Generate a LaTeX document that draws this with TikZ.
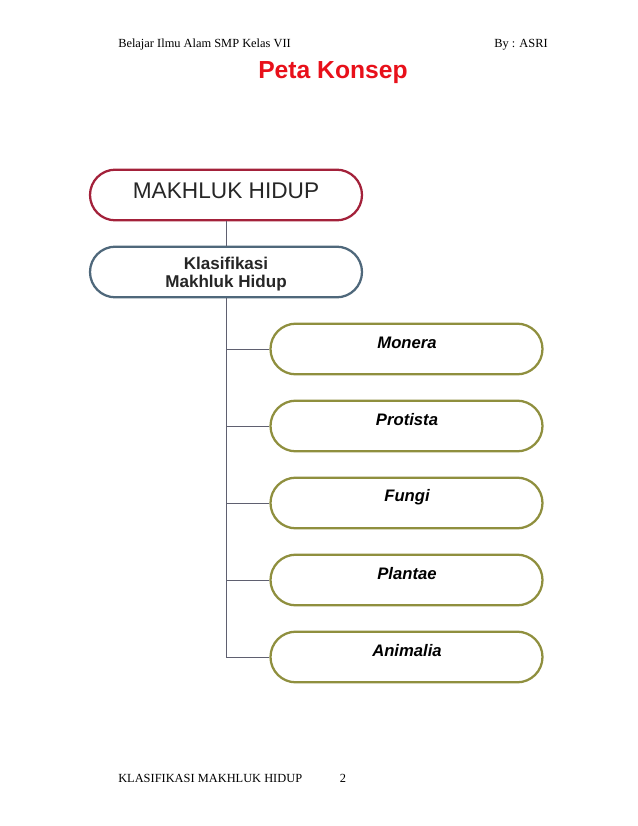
\documentclass[tikz,border=0pt]{standalone}
\usepackage{fontspec}
\setmainfont{Liberation Serif}
\newfontfamily\arialf{Liberation Sans}
\definecolor{topred}{HTML}{A3213A}
\definecolor{slateb}{HTML}{4F687B}
\definecolor{olivec}{HTML}{8F8F3E}
\definecolor{linec}{HTML}{5F6070}
\definecolor{titlered}{HTML}{E8101A}
\begin{document}
\begin{tikzpicture}[x=0.75pt,y=-0.75pt,
  pill/.style={draw, line width=1.7pt, rounded corners=19pt, fill=white, minimum width=204pt, minimum height=38pt, inner sep=0pt},
  toppill/.style={pill, draw=topred},
  midpill/.style={pill, draw=slateb},
  subpill/.style={pill, draw=olivec},
  conn/.style={draw=linec, line width=0.6pt},
  subtxt/.style={font=\arialf\bfseries\itshape\fontsize{12.5}{15}\selectfont},
  hdr/.style={font=\fontsize{9.3}{11}\selectfont, inner sep=0pt}
]
\useasboundingbox (0,0) rectangle (638,826);
\node[hdr, anchor=west] (h1) at (118,45) {Belajar Ilmu Alam SMP Kelas VII};
\node[hdr, anchor=east] (h2) at (548,45) {By : ASRI};
\node[font=\arialf\bfseries\fontsize{18.5}{22}\selectfont, text=titlered, inner sep=0pt] (title) at (333,73) {Peta Konsep};

\node[toppill] (mh) at (226,195) {};
\node[font=\arialf\fontsize{17}{20}\selectfont, text=black!85, inner sep=0pt] (mht) at (226,191) {MAKHLUK HIDUP};

\node[midpill] (kl) at (226,272) {};
\node[font=\arialf\bfseries\fontsize{12.8}{14}\selectfont, align=center, inner sep=0pt, text=black!85] (klt) at (226,274) {Klasifikasi\\Makhluk Hidup};

\foreach \n/\t/\y in {mo/Monera/349, pr/Protista/426, fu/Fungi/503, pl/Plantae/580, an/Animalia/657}{
  \node[subpill] (\n) at (406.5,\y) {};
  \node[subtxt, inner sep=0pt] (\n t) at (407,\y-6) {\t};
}

\draw[conn] (mh.south) -- (kl.north);
\coordinate (trunk) at (226,657);
\draw[conn] (kl.south) -- (trunk);
\foreach \n in {mo,pr,fu,pl,an}{
  \draw[conn] (\n.west) -- (kl.south |- \n.west);
}

\node[hdr, anchor=west] (f1) at (118,778) {KLASIFIKASI MAKHLUK HIDUP};
\node[hdr] (f2) at (343,778) {2};
\end{tikzpicture}
\end{document}
